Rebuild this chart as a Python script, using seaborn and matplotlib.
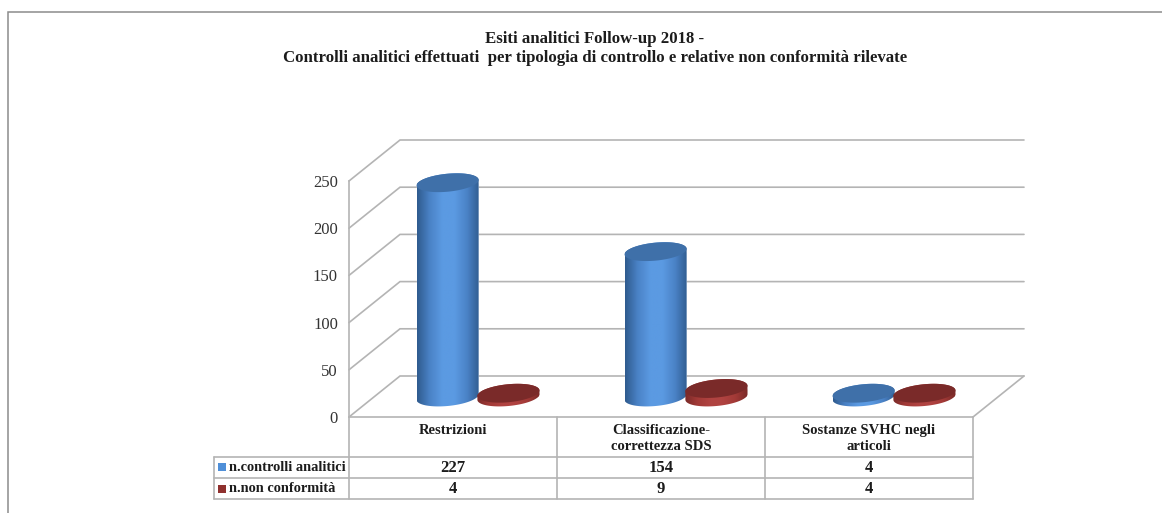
import numpy as np
import pandas as pd
import matplotlib
matplotlib.use("Agg")
import matplotlib.pyplot as plt
from matplotlib.colors import LinearSegmentedColormap
from matplotlib.patches import Polygon, Rectangle
import seaborn as sns

# ---- data ----
categories = ["Restrizioni", "Classificazione-\ncorrettezza SDS", "Sostanze SVHC negli\narticoli"]
series_names = ["n.controlli analitici", "n.non conformità"]
controlli = [227, 154, 4]
non_conformita = [4, 9, 4]
y_ticks = [0, 50, 100, 150, 200, 250]
title_text = ("Esiti analitici Follow-up 2018 -\n"
              "Controlli analitici effettuati  per tipologia di controllo e relative non conformità rilevate")

# ---- styling ----
W, H = 1162, 513
GRID = "#b4b4b4"
TXT = "#1c1c1c"
SERIF = ["Liberation Serif", "DejaVu Serif"]
BODY = [["#2f5b8e", "#4a82c6", "#5b9ae2", "#5b9ae2", "#4a82c6", "#2f5b8e"],
        ["#7a2a28", "#a33a37", "#b04341", "#b04341", "#a33a37", "#7a2a28"]]
TOP = ["#3f70a9", "#7a2a29"]
SWATCH = ["#4f8fd8", "#8f302e"]

sns.set_style("white")
plt.rcParams["font.family"] = SERIF
fig = plt.figure(figsize=(W / 100, H / 100), dpi=100, facecolor="white")


def axes_px(left, top, right, bottom, **kw):
    return fig.add_axes([left / W, 1 - bottom / H, (right - left) / W, (bottom - top) / H], **kw)


# page overlay in pixel coordinates: frame and table
page = axes_px(0, 0, W, H, zorder=0)
page.set_xlim(0, W)
page.set_ylim(H, 0)
page.axis("off")
page.plot([7.5, 7.5, W], [H, 11.5, 11.5], color="#8c8c8c", lw=1.1, solid_joinstyle="miter")

# front plane axes, carries the value axis
PLOT_L, PLOT_R, PLOT_T, PLOT_B = 349, 973, 181, 417
DEPTH_X, DEPTH_Y = 51, 41
ax = axes_px(PLOT_L, PLOT_T, PLOT_R, PLOT_B, zorder=1)
ax.patch.set_alpha(0)
ax.set_xlim(-0.5, len(categories) - 0.5)
ax.set_ylim(0, max(y_ticks))
ax.set_yticks(y_ticks)
ax.set_xticks([])
ax.tick_params(axis="y", length=0, pad=8, labelsize=12, labelcolor="#333333")
for s in ["top", "right", "bottom"]:
    ax.spines[s].set_visible(False)
ax.spines["left"].set_color(GRID)
ax.spines["left"].set_linewidth(1.2)

upx = (PLOT_B - PLOT_T) / max(y_ticks)            # pixels per value unit
cpx = (PLOT_R - PLOT_L) / len(categories)         # pixels per category
dx, dy = DEPTH_X / cpx, DEPTH_Y / upx
x0, x1 = -0.5, len(categories) - 0.5
for t in y_ticks:
    ax.plot([x0, x0 + dx, x1 + dx], [t, t + dy, t + dy], color=GRID, lw=1.2, clip_on=False,
            solid_joinstyle="miter")
ax.plot([x1, x1 + dx], [0, dy], color=GRID, lw=1.2, clip_on=False)

# bars live half way into the depth of the chart; the axes reach a little
# below the zero line so the rounded base of each cylinder is not cut
SHIFT_X, SHIFT_Y = 25, 20
BELOW = 20
bar_ax = axes_px(PLOT_L + SHIFT_X, PLOT_T - SHIFT_Y - 20, PLOT_R + SHIFT_X, PLOT_B - SHIFT_Y + BELOW, zorder=2)
df = pd.DataFrame({
    "categoria": categories * 2,
    "serie": [series_names[0]] * 3 + [series_names[1]] * 3,
    "valore": controlli + non_conformita,
})
sns.barplot(data=df, x="categoria", y="valore", hue="serie", order=categories,
            hue_order=series_names, palette=SWATCH, width=0.585, gap=0, dodge=True,
            legend=False, ax=bar_ax, saturation=1)
bar_lim = (-BELOW / upx, max(y_ticks) + 20 / upx)
bar_ax.axis("off")

A_Y, SKEW = 9.0 / upx, 0.09
theta = np.linspace(0, 2 * np.pi, 121)


def ellipse(cx, cy, half_w):
    a_px = half_w * cpx
    return np.column_stack([cx + half_w * np.cos(theta),
                            cy + A_Y * np.sin(theta) + SKEW * a_px / upx * np.cos(theta)])


for i, container in enumerate(bar_ax.containers):
    cmap = LinearSegmentedColormap.from_list(f"c{i}", BODY[i])
    for rect in container:
        x, w, h = rect.get_x(), rect.get_width(), rect.get_height()
        cx, hw = x + w / 2, w / 2 * 1.02
        low = ellipse(cx, 0, hw)
        top = ellipse(cx, h, hw)
        # outline of the body: upper half of the top cap, lower half of the base
        outline = np.vstack([top[:61], low[60:]])
        clip = Polygon(outline, closed=True, transform=bar_ax.transData, fc="none", ec="none")
        bar_ax.add_patch(clip)
        rect.set_clip_path(clip)
        im = bar_ax.imshow(np.linspace(0, 1, 128)[None, :], cmap=cmap, aspect="auto",
                           extent=[cx - hw, cx + hw, -2 * A_Y, h + 2 * A_Y], zorder=3 + i)
        im.set_clip_path(clip)
        bar_ax.add_patch(Polygon(top, closed=True, fc=TOP[i], ec="none", zorder=3.5 + i))
bar_ax.set_xlim(-0.5, len(categories) - 0.5)
bar_ax.set_ylim(*bar_lim)

# title
fig.text(595 / W, 1 - 48.5 / H, title_text, ha="center", va="center", fontsize=12.05,
         fontweight="bold", color=TXT, linespacing=1.32)

# data table under the chart
TBL_L = 214
ROWS = [417, 456.5, 478, 499]
col_x = [PLOT_L + i * cpx for i in range(len(categories) + 1)]
for yr in ROWS[1:]:
    page.plot([TBL_L, PLOT_R], [yr, yr], color=GRID, lw=1.2)
page.plot([TBL_L, TBL_L], [ROWS[1], ROWS[3]], color=GRID, lw=1.2)
page.plot([PLOT_L, PLOT_R], [ROWS[0]] * 2, color=GRID, lw=1.2)
for xc in col_x:
    page.plot([xc, xc], [ROWS[0], ROWS[3]], color=GRID, lw=1.2)

for j, cat in enumerate(categories):
    xc = (col_x[j] + col_x[j + 1]) / 2
    page.text(xc, 424, cat, ha="center", va="top", fontsize=10.5, fontweight="bold",
              color=TXT, linespacing=1.3)
for r, (name, vals) in enumerate(zip(series_names, [controlli, non_conformita])):
    yc = (ROWS[r + 1] + ROWS[r + 2]) / 2
    page.add_patch(Rectangle((218, yc - 4), 7.5, 8, fc=SWATCH[r], ec="none"))
    page.text(229, yc + 0.5, name, ha="left", va="center", fontsize=10.4, fontweight="bold", color=TXT)
    for j, v in enumerate(vals):
        page.text((col_x[j] + col_x[j + 1]) / 2, yc + 0.5, str(v), ha="center", va="center",
                  fontsize=12, fontweight="bold", color=TXT)

fig.savefig("out.png", dpi=100, facecolor="white")
